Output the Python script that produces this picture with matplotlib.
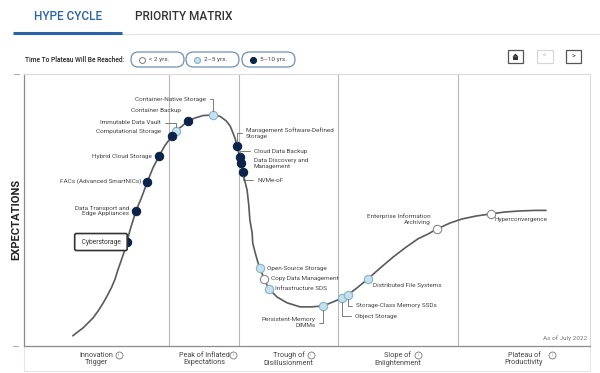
import matplotlib.pyplot as plt
from matplotlib.patches import FancyBboxPatch, Rectangle, Polygon
from matplotlib.transforms import blended_transform_factory

plt.rcParams['font.family'] = ['Roboto', 'DejaVu Sans']

# Curva del ciclo: madurez (0-100) vs expectativas (0-100)
curve_x = [8.3, 9.2, 10.1, 11.0, 11.9, 12.8, 13.7, 14.5, 15.2, 15.8, 16.3, 16.8, 17.4, 17.9,
           18.4, 19.0, 19.5, 20.6, 21.5, 22.5, 23.6, 24.6, 25.9, 26.6, 27.7, 28.7, 30.0, 31.4,
           33.2, 34.4, 35.5, 36.2, 36.7, 37.1, 37.4, 37.9, 38.1, 38.5, 38.8, 39.2, 39.5, 39.7,
           40.1, 40.2, 40.6, 41.0, 41.3, 41.7, 42.2, 43.1, 44.5, 46.3, 48.6, 50.7, 52.7, 54.4,
           56.0, 57.1, 58.7, 60.6, 62.8, 65.1, 67.2, 69.5, 71.3, 72.9, 75.2, 77.3, 79.8, 82.4,
           84.9, 87.6, 90.2, 92.2]
curve_y = [3.4, 4.9, 6.3, 8.2, 10.1, 12.7, 15.7, 18.7, 21.6, 24.6, 28.0, 31.0, 34.7, 38.4,
           42.5, 46.6, 50.0, 55.6, 60.8, 66.0, 70.5, 74.3, 78.0, 79.9, 81.7, 83.6, 84.7, 85.6,
           85.8, 85.3, 83.6, 81.7, 79.1, 76.9, 74.3, 70.1, 67.9, 64.5, 61.2, 57.8, 52.2, 46.6,
           41.8, 38.1, 34.7, 31.7, 29.5, 27.6, 24.6, 20.9, 17.9, 15.7, 14.2, 14.2, 14.6, 16.0,
           17.5, 18.7, 21.3, 24.6, 28.7, 32.8, 36.2, 39.6, 41.4, 43.3, 45.5, 47.0, 48.1, 48.9,
           49.6, 50.0, 50.2, 50.2]

# Tecnologias
tech_names = ['Cyberstorage', 'Data Transport and\nEdge Appliances', 'FACs (Advanced SmartNICs)',
              'Hybrid Cloud Storage', 'Computational Storage', 'Immutable Data Vault',
              'Container Backup', 'Container-Native Storage',
              'Management Software-Defined\nStorage', 'Cloud Data Backup',
              'Data Discovery and\nManagement', 'NVMe-oF', 'Open-Source Storage',
              'Copy Data Management', 'Infrastructure SDS', 'Persistent-Memory\nDIMMs',
              'Object Storage', 'Storage-Class Memory SSDs', 'Distributed File Systems',
              'Enterprise Information\nArchiving', 'Hyperconvergence']
tech_x = [17.9, 19.5, 21.5, 23.6, 25.9, 26.6, 28.7, 33.2, 37.4, 37.9, 38.1, 38.5,
          41.5, 42.2, 43.1, 52.7, 56.0, 57.1, 60.6, 72.9, 82.4]
tech_y = [38.4, 50.0, 60.8, 70.5, 78.0, 79.9, 83.6, 85.8, 74.3, 70.1, 67.9, 64.5,
          28.7, 24.6, 20.9, 14.6, 17.5, 18.7, 24.6, 43.3, 48.9]
tech_plateau = ['5-10', '5-10', '5-10', '5-10', '5-10', '2-5', '5-10', '2-5', '5-10', '5-10',
                '5-10', '5-10', '2-5', '<2', '2-5', '2-5', '2-5', '2-5', '2-5', '<2', '<2']

# Fases
phase_names = ['Innovation\nTrigger', 'Peak of Inflated\nExpectations', 'Trough of\nDisillusionment',
               'Slope of\nEnlightenment', 'Plateau of\nProductivity']
phase_bounds = [-0.35, 25.4, 37.8, 55.3, 76.6, 100]

plateau_keys = ['<2', '2-5', '5-10']
plateau_labels = ['< 2 yrs.', '2–5 yrs.', '5–10 yrs.']

# estilos
dot_style = {'<2': ('white', '#8a8a8a'), '2-5': ('#c6e0ec', '#86b3c9'), '5-10': ('#0c2449', '#0c2449')}
txt_col = '#444444'
# posicion de etiquetas (pixeles respecto al punto): dx, dy, ha, con linea guia
label_pos = {
    'Cyberstorage': (-26, 0, 'center', False),
    'Data Transport and\nEdge Appliances': (-7, 0, 'right', False),
    'FACs (Advanced SmartNICs)': (-6, 1, 'right', False),
    'Hybrid Cloud Storage': (-7, 0, 'right', False),
    'Computational Storage': (-11, 4, 'right', False),
    'Immutable Data Vault': (-15, 8, 'right', True),
    'Container Backup': (-7, 10, 'right', False),
    'Container-Native Storage': (-7, 16, 'right', True),
    'Management Software-Defined\nStorage': (9, 12.5, 'left', True),
    'Cloud Data Backup': (14, 6, 'left', True),
    'Data Discovery and\nManagement': (13, -0.5, 'left', False),
    'NVMe-oF': (14, -8, 'left', True),
    'Open-Source Storage': (7, 0, 'left', False),
    'Copy Data Management': (7, 1, 'left', False),
    'Infrastructure SDS': (6, 0, 'left', False),
    'Persistent-Memory\nDIMMs': (-8, -17, 'right', True),
    'Object Storage': (13, -18, 'left', True),
    'Storage-Class Memory SSDs': (8, -11, 'left', True),
    'Distributed File Systems': (5, -6, 'left', False),
    'Enterprise Information\nArchiving': (-7, 10, 'right', False),
    'Hyperconvergence': (4, -6, 'left', False),
}

fig = plt.figure(figsize=(6, 3.73), dpi=100)

# capa de interfaz en pixeles
ui = fig.add_axes([0, 0, 1, 1], zorder=-1)
ui.set_xlim(0, 600)
ui.set_ylim(373, 0)
ui.axis('off')

# pestañas
ui.text(68, 17, 'HYPE CYCLE', color='#2765a6', fontsize=8.5, fontweight='medium', ha='center', va='center')
ui.text(184, 17, 'PRIORITY MATRIX', color='#333333', fontsize=8.5, fontweight='medium', ha='center', va='center')
ui.plot([13, 600], [34, 34], color='#e4e4e4', lw=0.8)
ui.plot([13, 122], [32.5, 32.5], color='#2765a6', lw=2.2, solid_capstyle='butt')

# leyenda
ui.text(25, 59.5, 'Time To Plateau Will Be Reached:', fontsize=4.8, color='#222222', fontweight='medium',
        ha='left', va='center')
pill_x = [131, 186, 242]
for px, key, lab in zip(pill_x, plateau_keys, plateau_labels):
    ui.add_patch(FancyBboxPatch((px, 52), 53, 15, boxstyle='round,pad=0,rounding_size=7.5',
                                fc='white', ec='#6f90b5', lw=0.9))
    fc, ec = dot_style[key]
    ui.plot(px + 11, 59.5, 'o', ms=4.3, mfc=fc, mec=ec, mew=0.8)
    ui.text(px + 18, 59.5, lab, fontsize=4.6, color=txt_col, ha='left', va='center')

# botones
ui.add_patch(Rectangle((508, 50), 15, 13, fc='white', ec='#555555', lw=0.9))
ui.add_patch(Polygon([[512.3, 56.8], [515.5, 53.6], [518.7, 56.8]], closed=True, fc='#333333', ec='none'))
ui.add_patch(Rectangle((513.4, 56.5), 4.2, 3.2, fc='#333333', ec='none'))
ui.add_patch(Rectangle((537, 50), 16, 13, fc='white', ec='#d8d8d8', lw=0.9))
ui.text(545, 56.5, '<', fontsize=5, color='#bbbbbb', ha='center', va='center')
ui.add_patch(Rectangle((566, 50), 15, 13, fc='white', ec='#555555', lw=0.9))
ui.text(573.5, 56.5, '>', fontsize=5, color='#333333', ha='center', va='center')

# franja inferior y marcas
ui.add_patch(Rectangle((24, 346), 566, 25, fc='white', ec='#e6e6e6', lw=0.8))
ui.plot([14, 19], [74, 74], color='#b0b0b0', lw=0.8)
ui.plot([13, 18], [346, 346], color='#b0b0b0', lw=0.8)

# grafica principal
ax = fig.add_axes([24 / 600, 1 - 346 / 373, 566 / 600, 272 / 373])
ax.set_xlim(phase_bounds[0], phase_bounds[-1])
ax.set_ylim(-0.4, 101.1)
ax.set_xticks([])
ax.set_yticks([])
ax.patch.set_alpha(0)
for s in ['top', 'right']:
    ax.spines[s].set_color('#dadada')
    ax.spines[s].set_linewidth(0.8)
for s in ['left', 'bottom']:
    ax.spines[s].set_color('#8c8c8c')
    ax.spines[s].set_linewidth(0.9)

for b in phase_bounds[1:-1]:
    ax.axvline(b, color='#b8b8b8', lw=0.8, zorder=1)

ax.plot(curve_x, curve_y, color='#5a5a5a', lw=1.2, zorder=2, solid_capstyle='round',
        solid_joinstyle='round')

for key in plateau_keys:
    xs = [x for x, p in zip(tech_x, tech_plateau) if p == key]
    ys = [y for y, p in zip(tech_y, tech_plateau) if p == key]
    fc, ec = dot_style[key]
    ax.scatter(xs, ys, s=36, c=fc, edgecolors=ec, linewidths=0.8, zorder=4)

for name, x, y in zip(tech_names, tech_x, tech_y):
    dx, dy, ha, leader = label_pos[name]
    kw = {}
    if leader:
        kw['arrowprops'] = dict(arrowstyle='-', color='#666666', lw=0.6, shrinkA=1, shrinkB=3,
                                connectionstyle='angle,angleA=0,angleB=90,rad=0')
    text = name
    fs = 4.6
    col = txt_col
    if name == 'Cyberstorage':
        text = ' Cyberstorage '
        fs = 4.8
        col = '#333333'
        kw['bbox'] = dict(boxstyle='round,pad=0.75,rounding_size=0.25', fc='white', ec='#333333', lw=1.2)
    ax.annotate(text, (x, y), xytext=(dx, dy), textcoords='offset pixels', ha=ha, va='center',
                multialignment=ha, fontsize=fs, color=col, zorder=5, annotation_clip=False, **kw)

ax.text(0.995, 0.02, 'As of July 2022', transform=ax.transAxes, fontsize=4.6, color='#777777',
        ha='right', va='bottom')

fig.text(16 / 600, 1 - 219 / 373, 'EXPECTATIONS', rotation=90, fontsize=8, fontweight='bold',
         color='#222222', ha='center', va='center')

# nombres de fases
trans = blended_transform_factory(ax.transData, fig.transFigure)
icon_dx = [22, 29, 22, 20, 28]
for i, name in enumerate(phase_names):
    xc = (phase_bounds[i] + phase_bounds[i + 1]) / 2
    ax.text(xc, 1 - 359 / 373, name, transform=trans, fontsize=5.2, color=txt_col, ha='center',
            va='center', linespacing=1.1, clip_on=False)
    px = ax.transData.transform((xc, 0))[0] + icon_dx[i]
    ui.plot(px, 355, 'o', ms=5, mfc='white', mec='#777777', mew=0.6)
    ui.text(px, 355.3, 'i', fontsize=3.2, color='#777777', ha='center', va='center')

plt.savefig('out.png', dpi=100)
